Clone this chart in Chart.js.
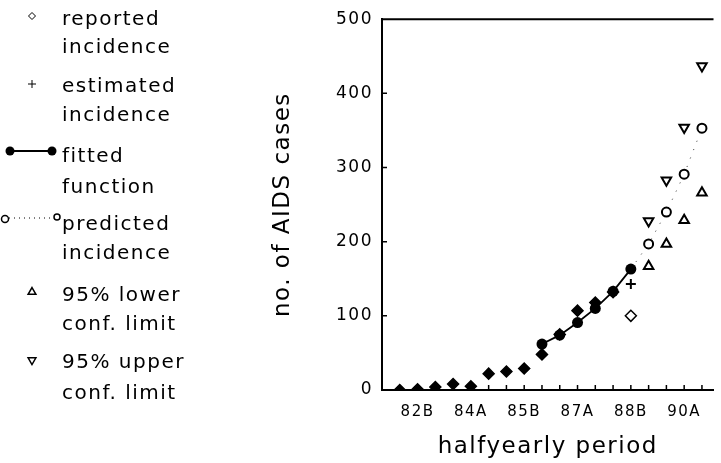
<!DOCTYPE html>
<html>
<head>
<meta charset="utf-8">
<script src="https://cdn.jsdelivr.net/npm/chart.js@4"></script>
<style>
  html, body { margin: 0; padding: 0; background: #fff; }
  #wrap { width: 721px; height: 463px; position: relative; }
</style>
</head>
<body>
<div id="wrap"><canvas id="chart"></canvas></div>
<script>
// halfyearly periods, A = first half, B = second half
const periods = ['82A','82B','83A','83B','84A','84B','85A','85B','86A','86B',
                 '87A','87B','88A','88B','89A','89B','90A','90B'];
const tickLabels = ['82B','84A','85B','87A','88B','90A'];
const yTicks = [0, 100, 200, 300, 400, 500];

// values
const reported  = [0, 1, 4, 8, 5, 22, 25, 29, 48, 75, 107, 118, 132, 100, null, null, null, null];
const estimated = [null, null, null, null, null, null, null, null, null, null, null, null, null, 143, null, null, null, null];
const fitted    = [null, null, null, null, null, null, null, null, 62, 74, 91, 110, 133, 163, null, null, null, null];
const predicted = [null, null, null, null, null, null, null, null, null, null, null, null, null, 163, 197, 240, 291, 353];
const lower     = [null, null, null, null, null, null, null, null, null, null, null, null, null, null, 167, 197, 229, 266];
const upper     = [null, null, null, null, null, null, null, null, null, null, null, null, null, null, 228, 283, 354, 437];

const legendLabels = [
  ['reported', 'incidence'],
  ['estimated', 'incidence'],
  ['fitted', 'function'],
  ['predicted', 'incidence'],
  ['95% lower', 'conf. limit'],
  ['95% upper', 'conf. limit']
];

const FONT = 'DejaVu Sans';
const toPoints = arr => periods.map((p, i) => ({ x: i, y: arr[i] }));

const sidePlugin = {
  id: 'side',
  beforeDraw(chart) {
    chart.ctx.letterSpacing = '1.5px';
  },
  beforeDatasetsDraw(chart) {
    const { ctx, chartArea } = chart;
    const xs = chart.scales.x, ys = chart.scales.y;
    ctx.save();
    ctx.strokeStyle = '#000';
    ctx.lineWidth = 1.5;
    ctx.beginPath();
    periods.forEach((p, i) => {
      const px = xs.getPixelForValue(i);
      ctx.moveTo(px, chartArea.bottom);
      ctx.lineTo(px, chartArea.bottom - 5);
    });
    yTicks.slice(1, -1).forEach(v => {
      const py = ys.getPixelForValue(v);
      ctx.moveTo(chartArea.left, py);
      ctx.lineTo(chartArea.left + 5, py);
    });
    ctx.stroke();
    ctx.lineWidth = 2;
    ctx.beginPath();
    ctx.moveTo(chartArea.left, chartArea.top);
    ctx.lineTo(chartArea.right, chartArea.top);
    ctx.stroke();
    ctx.restore();
  },
  afterDraw(chart) {
    const ctx = chart.ctx;
    const dp = Chart.helpers.drawPoint;
    ctx.save();
    ctx.strokeStyle = '#000';

    // markers
    ctx.fillStyle = '#fff';
    dp(ctx, { pointStyle: 'rectRot', radius: 3.5, borderWidth: 1.5 }, 32, 16);
    dp(ctx, { pointStyle: 'cross', radius: 4, borderWidth: 1.5 }, 32, 84);
    ctx.lineWidth = 2;
    ctx.beginPath(); ctx.moveTo(10, 151); ctx.lineTo(52, 151); ctx.stroke();
    ctx.fillStyle = '#000';
    dp(ctx, { pointStyle: 'circle', radius: 4.5, borderWidth: 0 }, 10, 151);
    dp(ctx, { pointStyle: 'circle', radius: 4.5, borderWidth: 0 }, 52, 151);
    ctx.lineWidth = 1;
    ctx.setLineDash([1, 4]);
    ctx.beginPath(); ctx.moveTo(9, 218); ctx.lineTo(53, 218); ctx.stroke();
    ctx.setLineDash([]);
    ctx.fillStyle = '#fff';
    ctx.lineWidth = 1.5;
    dp(ctx, { pointStyle: 'circle', radius: 3.5, borderWidth: 1.5 }, 5, 219);
    dp(ctx, { pointStyle: 'circle', radius: 3, borderWidth: 1.5 }, 57, 217);
    dp(ctx, { pointStyle: 'triangle', radius: 4.5, borderWidth: 1.5 }, 32, 292);
    dp(ctx, { pointStyle: 'triangle', rotation: 180, radius: 4.5, borderWidth: 1.5 }, 32, 360);

    // texts
    const bases = [[25, 53], [92, 121], [162, 193], [230, 259], [301, 330], [368, 399]];
    ctx.fillStyle = '#000';
    ctx.font = '20px "' + FONT + '"';
    ctx.letterSpacing = '1.5px';
    ctx.textAlign = 'left';
    ctx.textBaseline = 'alphabetic';
    legendLabels.forEach((lines, i) => {
      lines.forEach((t, j) => ctx.fillText(t, 62, bases[i][j]));
    });
    ctx.restore();
  }
};

new Chart(document.getElementById('chart'), {
  type: 'line',
  data: {
    datasets: [
      {
        label: 'fitted function',
        data: toPoints(fitted),
        borderColor: '#000', backgroundColor: '#000', borderWidth: 1.8,
        pointStyle: 'circle', pointRadius: 5.5, pointBorderWidth: 0,
        order: 1
      },
      {
        label: 'reported incidence',
        data: toPoints(reported),
        showLine: false,
        borderColor: '#000',
        pointBackgroundColor: reported.map((v, i) => periods[i] === '88B' ? '#fff' : '#000'),
        pointStyle: 'rectRot', pointRadius: 5.5, pointBorderWidth: 1.5,
        order: 2
      },
      {
        label: 'estimated incidence',
        data: toPoints(estimated),
        showLine: false,
        borderColor: '#000', backgroundColor: '#000',
        pointStyle: 'cross', pointRadius: 5, pointBorderWidth: 2,
        order: 3
      },
      {
        label: 'predicted incidence',
        data: toPoints(predicted),
        borderColor: '#000', backgroundColor: '#fff', borderWidth: 0.8,
        borderDash: [1, 8],
        pointStyle: 'circle',
        pointRadius: predicted.map((v, i) => periods[i] === '88B' ? 0 : 4.5),
        pointBorderWidth: 2,
        order: 4
      },
      {
        label: '95% lower conf. limit',
        data: toPoints(lower),
        showLine: false,
        borderColor: '#000', backgroundColor: '#fff',
        pointStyle: 'triangle', pointRadius: 5.5, pointBorderWidth: 2,
        order: 5
      },
      {
        label: '95% upper conf. limit',
        data: toPoints(upper),
        showLine: false,
        borderColor: '#000', backgroundColor: '#fff',
        pointStyle: 'triangle', pointRotation: 180, pointRadius: 5.5, pointBorderWidth: 2,
        order: 6
      }
    ]
  },
  options: {
    responsive: true,
    maintainAspectRatio: false,
    animation: false,
    layout: { padding: { left: 262, top: 13, right: 0, bottom: 0 } },
    plugins: { legend: { display: false }, tooltip: { enabled: false } },
    scales: {
      x: {
        type: 'linear',
        min: -1,
        max: 17.65,
        grid: { display: false, drawTicks: false },
        border: { display: true, color: '#000', width: 2 },
        afterBuildTicks: scale => { scale.ticks = periods.map((p, i) => ({ value: i })); },
        afterFit: scale => { scale.height = 73; },
        ticks: {
          autoSkip: false, maxRotation: 0, padding: 13, color: '#000',
          font: { family: FONT, size: 15 },
          callback: v => tickLabels.includes(periods[v]) ? periods[v] : ''
        },
        title: {
          display: true, text: 'halfyearly period', color: '#000',
          font: { family: FONT, size: 23 }, padding: { top: 0, bottom: 2 }
        }
      },
      y: {
        min: 0,
        max: 500,
        grid: { display: false, drawTicks: false },
        border: { display: true, color: '#000', width: 2 },
        afterBuildTicks: scale => { scale.ticks = yTicks.map(v => ({ value: v })); },
        afterFit: scale => { scale.width = 120; },
        ticks: { padding: 9, color: '#000', font: { family: FONT, size: 17 } },
        title: {
          display: true, text: 'no. of AIDS cases', color: '#000',
          font: { family: FONT, size: 23 }, padding: { top: 7, bottom: 0 }
        }
      }
    }
  },
  plugins: [sidePlugin]
});
</script>
</body>
</html>
